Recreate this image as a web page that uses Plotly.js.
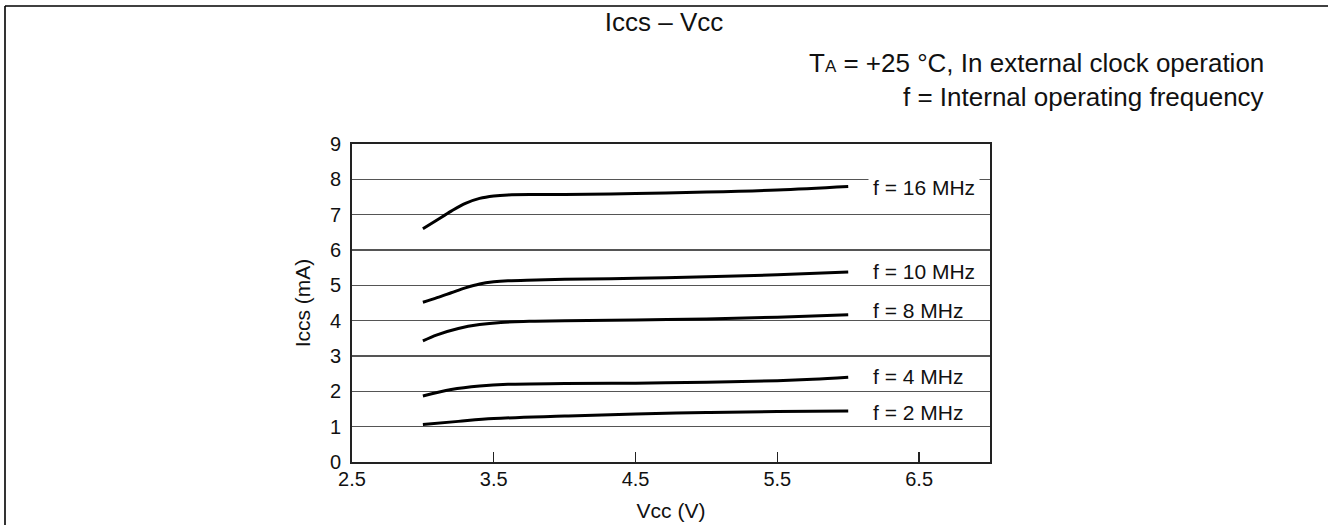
<!DOCTYPE html>
<html>
<head>
<meta charset="utf-8">
<script src="https://cdn.plot.ly/plotly-3.0.1.min.js"></script>
<style>
  html, body { margin: 0; padding: 0; background: #fff; }
  #chart { width: 1328px; height: 525px; }
</style>
</head>
<body>
<div id="chart"></div>
<script>
// ---- Data ----
const titleText = 'Iccs \u2013 Vcc';
const xTitle = 'Vcc (V)';
const yTitle = 'Iccs (mA)';
const noteLine1 = 'T<span style="font-size:17px">A</span> = +25 \u00B0C, In external clock operation';
const noteLine2 = 'f = Internal operating frequency';

const xTicks = [2.5, 3.5, 4.5, 5.5, 6.5];
const xTickLabels = ['2.5', '3.5', '4.5', '5.5', '6.5'];
const yTicks = [0, 1, 2, 3, 4, 5, 6, 7, 8, 9];

const seriesNames = ['f = 16 MHz', 'f = 10 MHz', 'f = 8 MHz', 'f = 4 MHz', 'f = 2 MHz'];

const vcc16 = [3.0, 3.1, 3.2, 3.3, 3.4, 3.5, 3.6, 3.8, 4.0, 4.5, 5.0, 5.5, 6.0];
const icc16 = [6.6, 6.85, 7.1, 7.32, 7.46, 7.53, 7.56, 7.57, 7.57, 7.6, 7.64, 7.7, 7.8];

const vcc10 = [3.0, 3.1, 3.2, 3.3, 3.4, 3.5, 3.6, 3.8, 4.0, 4.5, 5.0, 5.5, 6.0];
const icc10 = [4.52, 4.65, 4.79, 4.93, 5.04, 5.1, 5.13, 5.15, 5.17, 5.2, 5.24, 5.3, 5.38];

const vcc8 = [3.0, 3.1, 3.25, 3.4, 3.55, 3.75, 4.0, 4.5, 5.0, 5.5, 6.0];
const icc8 = [3.43, 3.6, 3.78, 3.89, 3.95, 3.98, 4.0, 4.02, 4.05, 4.1, 4.17];

const vcc4 = [3.0, 3.2, 3.4, 3.6, 4.0, 4.5, 5.0, 5.5, 5.75, 6.0];
const icc4 = [1.87, 2.05, 2.15, 2.2, 2.22, 2.23, 2.26, 2.3, 2.34, 2.4];

const vcc2 = [3.0, 3.25, 3.5, 4.0, 4.5, 5.0, 5.5, 6.0];
const icc2 = [1.06, 1.15, 1.23, 1.3, 1.36, 1.4, 1.43, 1.44];

// label positions (data coords) for the curve names
const labelX = [6.14, 6.14, 6.14, 6.14, 6.14];
const labelY = [7.78, 5.38, 4.3, 2.41, 1.39];

// ---- Build chart ----
const FONT = 'Liberation Sans, Arial, Helvetica, sans-serif';
const xs = [vcc16, vcc10, vcc8, vcc4, vcc2];
const ys = [icc16, icc10, icc8, icc4, icc2];

const traces = xs.map((x, i) => ({
  x: x, y: ys[i], type: 'scatter', mode: 'lines', name: seriesNames[i],
  line: { color: '#000', width: 3, shape: 'spline', smoothing: 1 },
  hoverinfo: 'skip'
}));

const W = 1328, H = 525;
const L = 352, R = 990, T = 144, B = 462;
const px2x = p => (p - L) / (R - L);
const py2y = p => (B - p) / (B - T);

const annotations = seriesNames.map((n, i) => ({
  x: labelX[i], y: labelY[i], xref: 'x', yref: 'y',
  text: n, showarrow: false, xanchor: 'left', yanchor: 'middle',
  font: { family: FONT, size: 21, color: '#111' },
  bgcolor: i === 0 ? '#fff' : 'rgba(0,0,0,0)', borderpad: 4
}));
annotations.push({
  x: px2x(1266), y: py2y(63), xref: 'paper', yref: 'paper',
  text: noteLine1, showarrow: false, xanchor: 'right', yanchor: 'middle',
  font: { family: FONT, size: 26, color: '#111' }
});
annotations.push({
  x: px2x(1266), y: py2y(97), xref: 'paper', yref: 'paper',
  text: noteLine2, showarrow: false, xanchor: 'right', yanchor: 'middle',
  font: { family: FONT, size: 26, color: '#111' }
});

const layout = {
  width: W, height: H,
  margin: { l: L, r: W - R, t: T, b: H - B, pad: 0 },
  paper_bgcolor: '#fff', plot_bgcolor: '#fff',
  showlegend: false,
  font: { family: FONT, size: 20, color: '#111' },
  title: {
    text: titleText, x: 0.5, xref: 'container', xanchor: 'center',
    y: 1 - 22 / H, yref: 'container', yanchor: 'middle',
    font: { family: FONT, size: 26, color: '#111' }
  },
  xaxis: {
    range: [2.5, 7.0], tickvals: xTicks, ticktext: xTickLabels,
    showgrid: false, zeroline: false,
    showline: true, mirror: true, linecolor: '#222', linewidth: 2,
    ticks: 'inside', ticklen: 10, tickwidth: 1.3, tickcolor: '#222',
    ticklabelstandoff: -2,
    tickfont: { family: FONT, size: 20, color: '#111' },
    title: { text: xTitle, standoff: 14, font: { family: FONT, size: 21, color: '#111' } }
  },
  yaxis: {
    range: [0, 9], tickvals: yTicks,
    showgrid: true, gridcolor: '#555', gridwidth: 1.3,
    zeroline: false,
    showline: true, mirror: true, linecolor: '#222', linewidth: 2,
    ticks: '', ticklabelstandoff: 5,
    tickfont: { family: FONT, size: 20, color: '#111' },
    title: { text: yTitle, standoff: 14, font: { family: FONT, size: 21, color: '#111' } }
  },
  annotations: annotations,
  shapes: [
    { type: 'line', xref: 'paper', yref: 'paper',
      x0: px2x(5), y0: py2y(H + 2), x1: px2x(5), y1: py2y(6),
      line: { color: '#000', width: 1.6 } },
    { type: 'line', xref: 'paper', yref: 'paper',
      x0: px2x(5), y0: py2y(6), x1: px2x(W + 2), y1: py2y(6),
      line: { color: '#000', width: 1.6 } }
  ]
};

Plotly.newPlot('chart', traces, layout, { displayModeBar: false, staticPlot: true });
</script>
</body>
</html>
